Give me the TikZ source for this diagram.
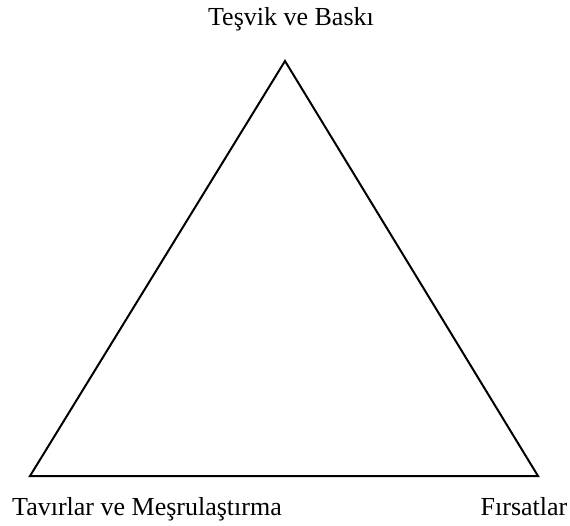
\documentclass[tikz,border=0pt]{standalone}
\usepackage{fontspec}
\setmainfont{Liberation Serif}
\begin{document}
\begin{tikzpicture}[x=1pt,y=-1pt, label/.style={font=\fontsize{26}{30}\selectfont, inner sep=0pt, anchor=base}]
\useasboundingbox (0,0) rectangle (570,525);

\coordinate (apex) at (285,61);
\coordinate (left) at (30,476);
\coordinate (right) at (538,476);
\draw[line width=2pt, line join=miter] (apex) -- (right) -- (left) -- cycle;

\node[label] (push) at (291,25) {Teşvik ve Baskı};
\node[label] (attitude) at (147,515) {Tavırlar ve Meşrulaştırma};
\node[label] (chance) at (524,515) {Fırsatlar};
\end{tikzpicture}
\end{document}
